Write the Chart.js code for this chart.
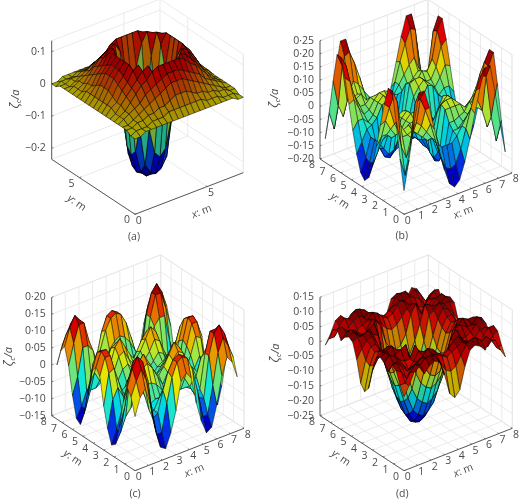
<!DOCTYPE html>
<html><head><meta charset="utf-8">
<script src="https://cdn.jsdelivr.net/npm/chart.js@4"></script>
<style>html,body{margin:0;padding:0;background:#fff}canvas{position:absolute}</style>
</head><body>
<script>
const gridMetres=[0,0.375,0.75,1.125,1.5,1.875,2.25,2.625,3,3.375,3.75,4.125,4.5,4.875,5.25,5.625,6,6.375,6.75,7.125,7.5];
// surface heights, in hundredths of zeta_c/a
const surfaceA=[
[0,0,1,1,1,1,1,1,1,1,1,1,1,1,1,1,1,1,1,0,0],
[0,1,1,1,2,2,2,3,3,3,3,3,3,3,2,2,2,1,1,1,0],
[1,1,2,2,3,3,4,4,5,6,6,6,5,4,4,3,3,2,2,1,1],
[1,1,2,3,4,5,6,7,8,9,9,9,8,7,6,5,4,3,2,1,1],
[1,2,3,4,5,7,8,9,10,11,11,11,10,9,8,7,5,4,3,2,1],
[1,2,3,5,7,9,10,12,13,13,13,13,13,12,10,9,7,5,3,2,1],
[1,2,4,6,8,10,12,13,10,3,1,3,10,13,12,10,8,6,4,2,1],
[1,3,4,7,9,12,13,6,-8,-16,-18,-16,-8,6,13,12,9,7,4,3,1],
[1,3,5,8,10,13,10,-8,-20,-23,-24,-23,-20,-8,10,13,10,8,5,3,1],
[1,3,6,9,11,13,3,-16,-23,-25,-25,-25,-23,-16,3,13,11,9,6,3,1],
[1,3,6,9,11,13,1,-18,-24,-25,-25,-25,-24,-18,1,13,11,9,6,3,1],
[1,3,6,9,11,13,3,-16,-23,-25,-25,-25,-23,-16,3,13,11,9,6,3,1],
[1,3,5,8,10,13,10,-8,-20,-23,-24,-23,-20,-8,10,13,10,8,5,3,1],
[1,3,4,7,9,12,13,6,-8,-16,-18,-16,-8,6,13,12,9,7,4,3,1],
[1,2,4,6,8,10,12,13,10,3,1,3,10,13,12,10,8,6,4,2,1],
[1,2,3,5,7,9,10,12,13,13,13,13,13,12,10,9,7,5,3,2,1],
[1,2,3,4,5,7,8,9,10,11,11,11,10,9,8,7,5,4,3,2,1],
[1,1,2,3,4,5,6,7,8,9,9,9,8,7,6,5,4,3,2,1,1],
[1,1,2,2,3,3,4,4,5,6,6,6,5,4,4,3,3,2,2,1,1],
[0,1,1,1,2,2,2,3,3,3,3,3,3,3,2,2,2,1,1,1,0],
[0,0,1,1,1,1,1,1,1,1,1,1,1,1,1,1,1,1,1,0,0]];
const surfaceB=[
[-11,0,13,24,24,17,8,-1,-9,-15,-17,-15,-9,-1,8,17,24,24,13,0,-11],
[0,-7,3,19,20,15,9,2,-5,-10,-11,-10,-5,2,9,15,20,19,3,-7,0],
[13,3,-2,5,10,8,5,2,-1,-3,-3,-3,-1,2,5,8,10,5,-2,3,13],
[24,19,5,5,6,4,2,0,0,-6,-7,-6,0,0,2,4,6,5,5,19,24],
[24,20,10,6,7,4,3,2,2,-9,-11,-9,2,2,3,4,7,6,10,20,24],
[17,15,8,4,4,6,6,6,6,-8,-12,-8,6,6,6,6,4,4,8,15,17],
[8,9,5,2,3,6,8,8,7,-4,-10,-4,7,8,8,6,3,2,5,9,8],
[-1,2,2,0,2,6,8,6,3,-5,-9,-5,3,6,8,6,2,0,2,2,-1],
[-9,-5,-1,0,2,6,7,3,-1,-6,-9,-6,-1,3,7,6,2,0,-1,-5,-9],
[-15,-10,-3,-6,-9,-8,-4,-5,-6,-6,-8,-6,-6,-5,-4,-8,-9,-6,-3,-10,-15],
[-17,-11,-3,-7,-11,-12,-10,-9,-9,-8,-8,-8,-9,-9,-10,-12,-11,-7,-3,-11,-17],
[-15,-10,-3,-6,-9,-8,-4,-5,-6,-6,-8,-6,-6,-5,-4,-8,-9,-6,-3,-10,-15],
[-9,-5,-1,0,2,6,7,3,-1,-6,-9,-6,-1,3,7,6,2,0,-1,-5,-9],
[-1,2,2,0,2,6,8,6,3,-5,-9,-5,3,6,8,6,2,0,2,2,-1],
[8,9,5,2,3,6,8,8,7,-4,-10,-4,7,8,8,6,3,2,5,9,8],
[17,15,8,4,4,6,6,6,6,-8,-12,-8,6,6,6,6,4,4,8,15,17],
[24,20,10,6,7,4,3,2,2,-9,-11,-9,2,2,3,4,7,6,10,20,24],
[24,19,5,5,6,4,2,0,0,-6,-7,-6,0,0,2,4,6,5,5,19,24],
[13,3,-2,5,10,8,5,2,-1,-3,-3,-3,-1,2,5,8,10,5,-2,3,13],
[0,-7,3,19,20,15,9,2,-5,-10,-11,-10,-5,2,9,15,20,19,3,-7,0],
[-11,0,13,24,24,17,8,-1,-9,-15,-17,-15,-9,-1,8,17,24,24,13,0,-11]];
const surfaceC=[
[1,6,8,3,-5,-11,-12,-8,-2,6,8,6,-2,-8,-12,-11,-5,3,8,6,1],
[6,10,13,9,0,-8,-8,0,7,11,12,11,7,0,-8,-8,0,9,13,10,6],
[8,13,16,14,8,-4,-3,3,8,11,12,11,8,3,-3,-4,8,14,16,13,8],
[3,9,14,14,8,-2,-3,0,3,5,6,5,3,0,-3,-2,8,14,14,9,3],
[-5,0,8,8,6,1,-2,-1,-1,-1,-2,-1,-1,-1,-2,1,6,8,8,0,-5],
[-11,-8,-4,-2,1,3,3,3,2,0,-4,0,2,3,3,3,1,-2,-4,-8,-11],
[-12,-8,-3,-3,-2,3,7,8,6,3,0,3,6,8,7,3,-2,-3,-3,-8,-12],
[-8,0,3,0,-1,3,8,10,7,4,2,4,7,10,8,3,-1,0,3,0,-8],
[-2,7,8,3,-1,2,6,7,4,2,1,2,4,7,6,2,-1,3,8,7,-2],
[6,11,11,5,-1,0,3,4,2,0,-1,0,2,4,3,0,-1,5,11,11,6],
[8,12,12,6,-2,-4,0,2,1,-1,-2,-1,1,2,0,-4,-2,6,12,12,8],
[6,11,11,5,-1,0,3,4,2,0,-1,0,2,4,3,0,-1,5,11,11,6],
[-2,7,8,3,-1,2,6,7,4,2,1,2,4,7,6,2,-1,3,8,7,-2],
[-8,0,3,0,-1,3,8,10,7,4,2,4,7,10,8,3,-1,0,3,0,-8],
[-12,-8,-3,-3,-2,3,7,8,6,3,0,3,6,8,7,3,-2,-3,-3,-8,-12],
[-11,-8,-4,-2,1,3,3,3,2,0,-4,0,2,3,3,3,1,-2,-4,-8,-11],
[-5,0,8,8,6,1,-2,-1,-1,-1,-2,-1,-1,-1,-2,1,6,8,8,0,-5],
[3,9,14,14,8,-2,-3,0,3,5,6,5,3,0,-3,-2,8,14,14,9,3],
[8,13,16,14,8,-4,-3,3,8,11,12,11,8,3,-3,-4,8,14,16,13,8],
[6,10,13,9,0,-8,-8,0,7,11,12,11,7,0,-8,-8,0,9,13,10,6],
[1,6,8,3,-5,-11,-12,-8,-2,6,8,6,-2,-8,-12,-11,-5,3,8,6,1]];
const surfaceD=[
[0,3,7,8,5,7,8,7,2,-5,-7,-5,2,7,8,7,5,8,7,3,0],
[3,3,6,8,7,9,9,8,5,2,1,2,5,8,9,9,7,8,6,3,3],
[7,6,3,6,7,8,7,8,7,6,5,6,7,8,7,8,7,6,3,6,7],
[8,8,6,4,5,6,7,9,8,6,5,6,8,9,7,6,5,4,6,8,8],
[5,7,7,5,3,5,8,7,5,3,2,3,5,7,8,5,3,5,7,7,5],
[7,9,8,6,5,5,9,6,0,-3,-4,-3,0,6,9,5,5,6,8,9,7],
[8,9,7,7,8,9,3,-2,-6,-8,-9,-8,-6,-2,3,9,8,7,7,9,8],
[7,8,8,9,7,6,-2,-8,-12,-14,-15,-14,-12,-8,-2,6,7,9,8,8,7],
[2,5,7,8,5,0,-6,-12,-17,-19,-20,-19,-17,-12,-6,0,5,8,7,5,2],
[-5,2,6,6,3,-3,-8,-14,-19,-22,-23,-22,-19,-14,-8,-3,3,6,6,2,-5],
[-7,1,5,5,2,-4,-9,-15,-20,-23,-24,-23,-20,-15,-9,-4,2,5,5,1,-7],
[-5,2,6,6,3,-3,-8,-14,-19,-22,-23,-22,-19,-14,-8,-3,3,6,6,2,-5],
[2,5,7,8,5,0,-6,-12,-17,-19,-20,-19,-17,-12,-6,0,5,8,7,5,2],
[7,8,8,9,7,6,-2,-8,-12,-14,-15,-14,-12,-8,-2,6,7,9,8,8,7],
[8,9,7,7,8,9,3,-2,-6,-8,-9,-8,-6,-2,3,9,8,7,7,9,8],
[7,9,8,6,5,5,9,6,0,-3,-4,-3,0,6,9,5,5,6,8,9,7],
[5,7,7,5,3,5,8,7,5,3,2,3,5,7,8,5,3,5,7,7,5],
[8,8,6,4,5,6,7,9,8,6,5,6,8,9,7,6,5,4,6,8,8],
[7,6,3,6,7,8,7,8,7,6,5,6,7,8,7,8,7,6,3,6,7],
[3,3,6,8,7,9,9,8,5,2,1,2,5,8,9,9,7,8,6,3,3],
[0,3,7,8,5,7,8,7,2,-5,-7,-5,2,7,8,7,5,8,7,3,0]];

const metreTicksAll=[0,1,2,3,4,5,6,7,8];
const metreTicksA=[0,5];
const zTicksA=[-0.2,-0.1,0,0.1];
const zLabelsA=["−0·2","−0·1","0","0·1"];
const zTicksB=[-0.2,-0.15,-0.1,-0.05,0,0.05,0.1,0.15,0.2,0.25];
const zLabelsB=["−0·20","−0·15","−0·10","−0·05","0","0·05","0·10","0·15","0·20","0·25"];
const zTicksC=[-0.15,-0.1,-0.05,0,0.05,0.1,0.15,0.2];
const zLabelsC=["−0·15","−0·10","−0·05","0","0·05","0·10","0·15","0·20"];
const zTicksD=[-0.25,-0.2,-0.15,-0.1,-0.05,0,0.05,0.1,0.15];
const zLabelsD=["−0·25","−0·20","−0·15","−0·10","−0·05","0","0·05","0·10","0·15"];

const TEXT='#4b4b4b', FONT='"Open Sans"';
const panels=[
 {box:[0,0],cap:'(a)',surface:surfaceA,clim:[-25,16],shade:0.66,mesh:0.6,mt:metreTicksA,zt:zTicksA,zl:zLabelsA,span:7.5,o:[135,214.3],xe:[243.3,172.7],ye:[51.7,159.3],z:[-0.234,0.134],ztop:40.7,capAt:[134,236.7],xl:[201.7,211.7],yl:[76.7,203],zeta:[15.7,99]},
 {box:[260,0],cap:'(b)',surface:surfaceB,clim:[-17,24],shade:0.88,mesh:0.55,mt:metreTicksAll,zt:zTicksB,zl:zLabelsB,span:8,o:[404,214.3],xe:[512,173],ye:[320,159],z:[-0.2,0.25],ztop:40.7,capAt:[401.7,236],xl:[463.3,212.3],yl:[340,201],zeta:[275,98.3]},
 {box:[0,250],cap:'(c)',surface:surfaceC,clim:[-12,16],shade:0.9,mesh:0.55,mt:metreTicksAll,zt:zTicksC,zl:zLabelsC,span:8,o:[135,470.7],xe:[244,428.3],ye:[51.7,415.7],z:[-0.15,0.2],ztop:297.3,capAt:[135,494],xl:[194.3,470.7],yl:[72.7,458],zeta:[9.3,356.7]},
 {box:[260,250],cap:'(d)',surface:surfaceD,clim:[-24,9],shade:0.78,mesh:0.6,mt:metreTicksAll,zt:zTicksD,zl:zLabelsD,span:8,o:[404,470.7],xe:[512.3,428.3],ye:[320,415.7],z:[-0.25,0.15],ztop:297.3,capAt:[402.3,494],xl:[463.3,470.7],yl:[341,458],zeta:[275.7,353]}
];
function jet(t,shade){const c=v=>Math.round(255*shade*Math.min(1,Math.max(0,v)));
 return `rgb(${c(1.5-Math.abs(4*t-3))},${c(1.5-Math.abs(4*t-2))},${c(1.5-Math.abs(4*t-1))})`;}
function runs(ctx,x,y,rot,parts){ctx.save();ctx.translate(x,y);ctx.rotate(rot);ctx.textBaseline='middle';ctx.textAlign='left';
 let w=0;parts.forEach(p=>{ctx.font=p[1];w+=ctx.measureText(p[0]).width;});
 let cx=-w/2;parts.forEach(p=>{ctx.font=p[1];ctx.fillStyle=TEXT;ctx.fillText(p[0],cx,p[2]||0);cx+=ctx.measureText(p[0]).width;});ctx.restore();}

panels.forEach(p=>{
 const cv=document.createElement('canvas');cv.width=260;cv.height=250;
 cv.style.left=p.box[0]+'px';cv.style.top=p.box[1]+'px';document.body.appendChild(cv);
 const h=p.ye[1]-p.ztop;
 const P=(x,y,z)=>({x:p.o[0]+x/p.span*(p.xe[0]-p.o[0])+y/p.span*(p.ye[0]-p.o[0]),
   y:p.o[1]+x/p.span*(p.xe[1]-p.o[1])+y/p.span*(p.ye[1]-p.o[1])-(z-p.z[0])/(p.z[1]-p.z[0])*h});
 const lo=p.clim[0],hi=p.clim[1];
 const ds=[];
 const n=gridMetres.length-1, order=[];
 for(let j=0;j<n;j++)for(let i=0;i<n;i++)order.push([i,j]);
 order.sort((a,b)=>(a[0]+a[1])-(b[0]+b[1]));
 order.forEach(([i,j])=>{
  const s=p.surface,v=(a,b)=>P(gridMetres[a],gridMetres[b],s[b][a]/100);
  const m=(s[j][i]+s[j][i+1]+s[j+1][i]+s[j+1][i+1])/4;
  ds.push({data:[v(i,j),v(i+1,j),v(i+1,j+1),v(i,j+1),v(i,j)],showLine:true,fill:'shape',tension:0,pointRadius:0,
   backgroundColor:jet((m-lo)/(hi-lo),p.shade),borderColor:'rgba(0,0,0,0.85)',borderWidth:p.mesh});
 });
 const L=(a,b,col,w)=>ds.push({data:[a,b],showLine:true,fill:false,pointRadius:0,borderColor:col,borderWidth:w});
 const S=p.span,zl=p.z[0],zh=p.z[1],AX='#5a5a5a',G='#e6e6e6';
 L(P(0,0,zl),P(S,0,zl),AX,1);L(P(0,0,zl),P(0,S,zl),AX,1);L(P(0,S,zl),P(0,S,zh),AX,1);
 p.mt.forEach(t=>{L(P(t,0,zl),P(t,0.12,zl),AX,0.8);L(P(0,t,zl),P(0.12,t,zl),AX,0.8);});
 p.zt.forEach(t=>L(P(0,S,t),P(0.12,S,t),AX,0.8));
 p.mt.forEach(t=>{L(P(t,0,zl),P(t,S,zl),G,0.8);L(P(0,t,zl),P(S,t,zl),G,0.8);L(P(t,S,zl),P(t,S,zh),G,0.8);L(P(S,t,zl),P(S,t,zh),G,0.8);});
 p.zt.forEach(t=>{L(P(0,S,t),P(S,S,t),G,0.8);L(P(S,S,t),P(S,0,t),G,0.8);});
 L(P(S,S,zl),P(S,S,zh),G,0.8);L(P(S,0,zl),P(S,0,zh),G,0.8);L(P(S,0,zl),P(S,S,zl),G,0.8);L(P(0,S,zl),P(S,S,zl),G,0.8);
 L(P(0,S,zh),P(S,S,zh),G,0.8);L(P(S,S,zh),P(S,0,zh),G,0.8);
 const labels={id:'labels',afterDraw(ch){
  const c=ch.ctx,X=v=>ch.scales.x.getPixelForValue(v),Y=v=>ch.scales.y.getPixelForValue(v);
  c.save();c.fillStyle=TEXT;c.font='10.5px '+FONT;c.textBaseline='middle';
  c.textAlign='center';
  p.mt.forEach(t=>{const a=P(t,0,zl),b=P(0,t,zl);
   c.fillText(String(t),X(a.x+3.7),Y(a.y+6.5));c.fillText(String(t),X(b.x-8),Y(b.y+6));});
  c.textAlign='right';
  p.zt.forEach((t,k)=>{const a=P(0,S,t);c.fillText(p.zl[k],X(a.x-6),Y(a.y));});
  c.textAlign='center';c.fillText(p.cap,X(p.capAt[0]),Y(p.capAt[1]));c.restore();
  const it='italic 10.5px '+FONT,no='10.5px '+FONT;
  runs(c,X(p.xl[0]),Y(p.xl[1]),-0.37,[['x',it],[': m',no]]);
  runs(c,X(p.yl[0]),Y(p.yl[1]),0.6,[['y',it],[': m',no]]);
  runs(c,X(p.zeta[0]),Y(p.zeta[1]),-Math.PI/2,[['ζ','italic 12px '+FONT],['c','italic 8px '+FONT,3],['/a','italic 11px '+FONT]]);
 }};
 new Chart(cv,{type:'scatter',data:{datasets:ds},plugins:[labels],options:{responsive:false,animation:false,events:[],
  layout:{padding:0},plugins:{legend:{display:false},tooltip:{enabled:false}},
  scales:{x:{type:'linear',display:false,min:p.box[0],max:p.box[0]+260},y:{type:'linear',display:false,reverse:true,min:p.box[1],max:p.box[1]+250}}}});
});
</script>
</body></html>
